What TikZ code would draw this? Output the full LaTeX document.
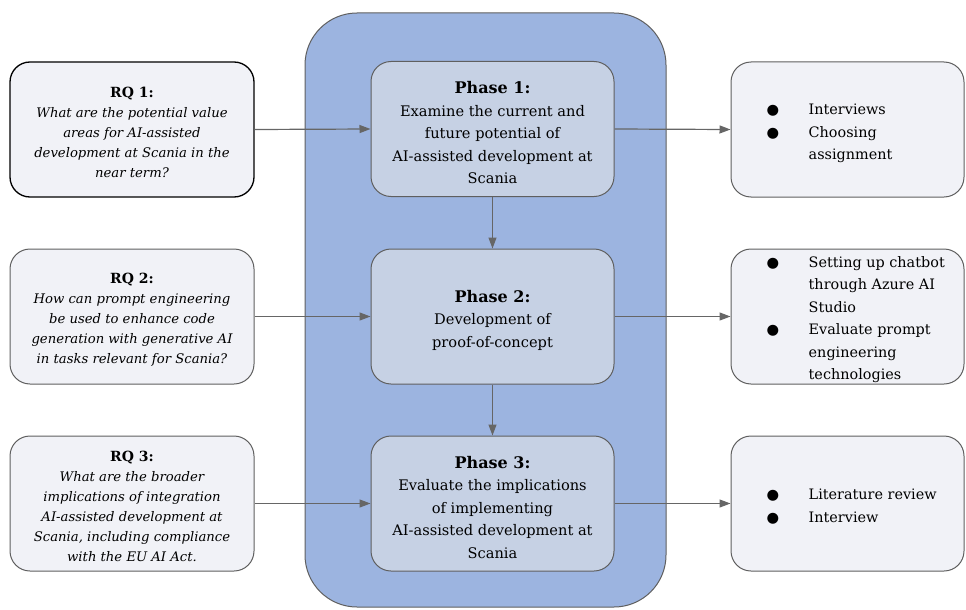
\documentclass[tikz,border=0pt]{standalone}
\usepackage{fontspec}
\setmainfont{DejaVu Serif}
\newfontfamily\symf{DejaVu Sans}
\usetikzlibrary{arrows.meta}
\definecolor{contfill}{HTML}{9CB4E0}
\definecolor{phasefill}{HTML}{C6D1E4}
\definecolor{sidefill}{HTML}{F1F2F7}
\definecolor{bordergray}{HTML}{5F5F5F}
\definecolor{arrowgray}{HTML}{666666}
\newcommand{\rqtitle}[1]{{\upshape\bfseries\fontsize{14}{20}\selectfont\rule{0pt}{17pt}#1}}
\newcommand{\phtitle}[1]{{\bfseries\fontsize{16}{22.5}\selectfont\rule{0pt}{20pt}#1}}
\begin{document}
\begin{tikzpicture}[x=1pt,y=-1pt,
  basebox/.style={rounded corners=20pt, draw=bordergray, line width=1pt,
    minimum width=244pt, minimum height=135pt, inner sep=0pt, align=center},
  rqbox/.style={basebox, fill=sidefill, font=\fontsize{13.2}{20}\selectfont\itshape},
  phasebox/.style={basebox, fill=phasefill, minimum width=243pt, font=\fontsize{14.6}{22.5}\selectfont},
  outbox/.style={basebox, fill=sidefill, minimum width=233pt},
  listtext/.style={inner sep=0pt, anchor=west, font=\fontsize{14.4}{22.5}\selectfont},
  container/.style={rounded corners=52pt, draw=bordergray, line width=1pt, fill=contfill,
    minimum width=361pt, minimum height=594pt, inner sep=0pt},
  conn/.style={draw=arrowgray, line width=1.2pt, -{Triangle[length=11pt,width=8pt]}},
]
\useasboundingbox (0,0) rectangle (966,610);

\node[container] (cont) at (485.5,310) {};

% research questions
\node[rqbox, draw=black, line width=1.3pt] (rq1) at (132,129.5)
  {\rqtitle{RQ 1:}\\What are the potential value\\areas for AI-assisted\\development at Scania in the\\near term?};
\node[rqbox] (rq2) at (132,316.5)
  {\rqtitle{RQ 2:}\\How can prompt engineering\\be used to enhance code\\generation with generative AI\\in tasks relevant for Scania?};
\node[rqbox] (rq3) at (132,503.5)
  {\rqtitle{RQ 3:}\\What are the broader\\implications of integration\\AI-assisted development at\\Scania, including compliance\\with the EU AI Act.};

% phases
\node[phasebox] (p1) at (492.5,129)
  {\phtitle{Phase 1:}\\Examine the current and\\future potential of\\AI-assisted development at\\Scania};
\node[phasebox] (p2) at (492.5,316.5)
  {\phtitle{Phase 2:}\\Development of\\proof-of-concept};
\node[phasebox] (p3) at (492.5,503.5)
  {\phtitle{Phase 3:}\\Evaluate the implications\\of implementing\\AI-assisted development at\\Scania};

% outcomes
\node[outbox] (o1) at (847.5,129.5) {};
\node[outbox] (o2) at (847.5,316.5) {};
\node[outbox] (o3) at (847.5,503.5) {};

\node[listtext] (o1t) at ([xshift=36pt,yshift=-3pt]o1.west)
  {\begin{tabular}{@{}p{42pt}@{}l@{}}
   {\symf ●} & Interviews\\
   {\symf ●} & Choosing\\
             & assignment
   \end{tabular}};
\node[listtext] (o2t) at ([xshift=36pt,yshift=-2.5pt]o2.west)
  {\begin{tabular}{@{}p{42pt}@{}l@{}}
   {\symf ●} & Setting up chatbot\\
             & through Azure AI\\
             & Studio\\
   {\symf ●} & Evaluate prompt\\
             & engineering\\
             & technologies
   \end{tabular}};
\node[listtext] (o3t) at ([xshift=36pt,yshift=-3pt]o3.west)
  {\begin{tabular}{@{}p{42pt}@{}l@{}}
   {\symf ●} & Literature review\\
   {\symf ●} & Interview
   \end{tabular}};

% connectors
\draw[conn] (rq1.east) -- (p1.west);
\draw[conn] (rq2.east) -- (p2.west);
\draw[conn] (rq3.east) -- (p3.west);
\draw[conn] (p1.east) -- (o1.west);
\draw[conn] (p2.east) -- (o2.west);
\draw[conn] (p3.east) -- (o3.west);
\draw[conn] (p1.south) -- (p2.north);
\draw[conn] (p2.south) -- (p3.north);
\end{tikzpicture}
\end{document}
